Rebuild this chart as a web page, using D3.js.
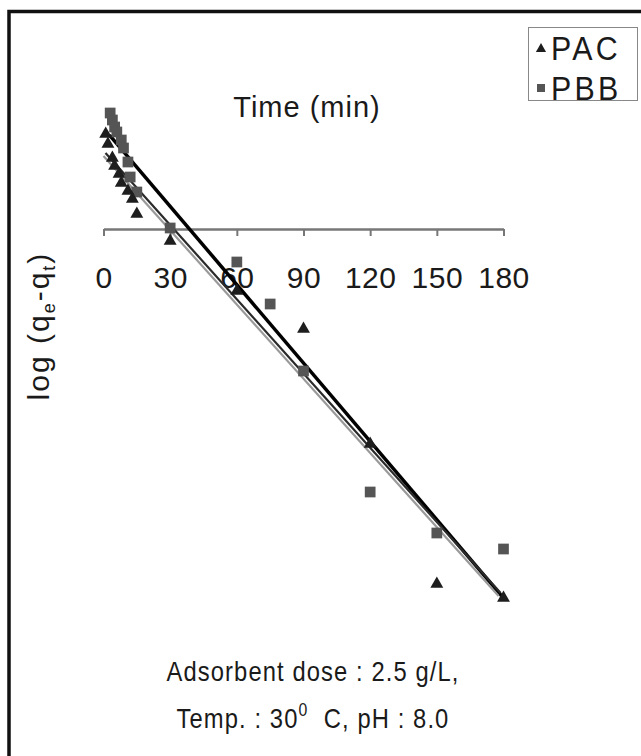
<!DOCTYPE html>
<html><head><meta charset="utf-8">
<script src="https://cdn.jsdelivr.net/npm/d3@7"></script>
<style>
html,body{margin:0;padding:0;background:#fff;}
svg{display:block;}
text{font-family:"Liberation Sans",Arial,sans-serif;fill:#1a1a1a;}
</style></head><body>
<script>
// ---- data ----
const xTicks = [0, 30, 60, 90, 120, 150, 180];
const pacTime = [1, 2, 4, 5, 7, 8, 11, 13, 15, 30, 60, 90, 120, 150, 180];
const pacLog  = [0.48, 0.43, 0.36, 0.32, 0.28, 0.235, 0.195, 0.155, 0.08, -0.055, -0.305, -0.495, -1.07, -1.77, -1.84];
const pbbTime = [3, 4, 5, 6, 8, 9, 11, 12, 15, 30, 60, 75, 90, 120, 150, 180];
const pbbLog  = [0.58, 0.545, 0.51, 0.485, 0.445, 0.405, 0.335, 0.26, 0.185, 0.005, -0.165, -0.375, -0.71, -1.315, -1.52, -1.6];
// fitted lines: slope, intercept, time range
const fitNames     = ["fitA", "fitB"];
const fitSlope     = [-0.013057, -0.012373];
const fitIntercept = [0.505, 0.391];
const fitT0        = [2.7, 0.9];
const fitT1        = [180, 178.7];
const legendNames  = ["PAC", "PBB"];

const W = 641, H = 756;
const svg = d3.select("body").append("svg").attr("width", W).attr("height", H);

// frame
svg.append("rect").attr("x", 9).attr("y", 11.5).attr("width", W + 20).attr("height", H + 20)
  .attr("fill", "none").attr("stroke", "#111").attr("stroke-width", 3.5);

const x = d3.scaleLinear().domain([0, 180]).range([103.5, 503.5]);
const y = d3.scaleLinear().domain([0, -1.84]).range([229, 597]);

// x axis
const ax = svg.append("g").attr("transform", `translate(0,${y(0)})`)
  .call(d3.axisBottom(x).tickValues(xTicks).tickSize(7).tickSizeOuter(0).tickFormat(d3.format("d")));
ax.select(".domain").attr("stroke", "#777").attr("stroke-width", 2.5);
ax.selectAll(".tick line").attr("stroke", "#777").attr("stroke-width", 2);
ax.selectAll(".tick text").attr("y", 0).attr("dy", 0)
  .attr("transform", "translate(0,59)")
  .style("font-family", '"Liberation Sans",Arial,sans-serif')
  .style("font-size", "30px").style("letter-spacing", "0.5px").attr("fill", "#1a1a1a");

// axis titles
svg.append("text").attr("x", 307).attr("y", 117).attr("text-anchor", "middle")
  .style("font-size", "29px").style("letter-spacing", "1px").text("Time (min)");

const yl = svg.append("text").attr("transform", "translate(49,326) rotate(-90)")
  .attr("text-anchor", "middle").style("font-size", "30px").style("letter-spacing", "2px");
yl.append("tspan").text("log (q");
yl.append("tspan").attr("dy", 6).style("font-size", "18px").text("e");
yl.append("tspan").attr("dy", -6).text("-q");
yl.append("tspan").attr("dy", 6).style("font-size", "18px").text("t");
yl.append("tspan").attr("dy", -6).text(")");

// symbols
const tri = d3.symbol().type(d3.symbolTriangle).size(72);
const sq = d3.symbol().type(d3.symbolSquare).size(115);

// fit lines
fitNames.forEach((n, i) => {
  const pts = [fitT0[i], fitT1[i]].map(t => [x(t), y(fitSlope[i] * t + fitIntercept[i])]);
  const line = d3.line();
  if (n === "fitB") {
    svg.append("path").attr("d", line(pts)).attr("transform", "translate(-2,3)")
      .attr("stroke", "#9a9a9a").attr("stroke-width", 2.2).attr("fill", "none");
    svg.append("path").attr("d", line(pts))
      .attr("stroke", "#2a2a2a").attr("stroke-width", 2.2).attr("fill", "none");
  } else {
    svg.append("path").attr("d", line(pts))
      .attr("stroke", "#000").attr("stroke-width", 3.5).attr("fill", "none");
  }
});

// points
svg.append("g").selectAll("path").data(pbbTime.map((t, i) => [t, pbbLog[i]])).join("path")
  .attr("d", sq).attr("transform", d => `translate(${x(d[0])},${y(d[1])})`).attr("fill", "#555");
svg.append("g").selectAll("path").data(pacTime.map((t, i) => [t, pacLog[i]])).join("path")
  .attr("d", tri).attr("transform", d => `translate(${x(d[0])},${y(d[1]) + 1})`).attr("fill", "#1e1e1e");

// legend
const lg = svg.append("g");
lg.append("rect").attr("x", 528.5).attr("y", 27.5).attr("width", 109).attr("height", 73)
  .attr("fill", "#fff").attr("stroke", "#888").attr("stroke-width", 1);
legendNames.forEach((n, i) => {
  const cy = 48 + i * 40;
  lg.append("path").attr("d", i === 0 ? d3.symbol().type(d3.symbolTriangle).size(45)() : d3.symbol().type(d3.symbolSquare).size(64)())
    .attr("transform", `translate(541,${cy + (i === 0 ? 1 : 0)})`).attr("fill", i === 0 ? "#1e1e1e" : "#555");
  lg.append("text").attr("transform", `translate(551,${cy + 12}) scale(0.92,1)`)
    .style("font-size", "33px").style("letter-spacing", "3.5px").text(n);
});

// notes
svg.append("text").attr("transform", "translate(313,681) scale(0.88,1)").attr("text-anchor", "middle")
  .style("font-size", "27px").style("letter-spacing", "1.25px").text("Adsorbent dose : 2.5 g/L,");
const t2 = svg.append("text").attr("transform", "translate(313,728) scale(0.88,1)").attr("text-anchor", "middle")
  .style("font-size", "27px").style("letter-spacing", "1.25px");
t2.append("tspan").text("Temp. : 30");
t2.append("tspan").attr("dy", -12).style("font-size", "18px").text("0");
t2.append("tspan").attr("dy", 12).text("\u00a0 C, pH : 8.0");
</script>
</body></html>
